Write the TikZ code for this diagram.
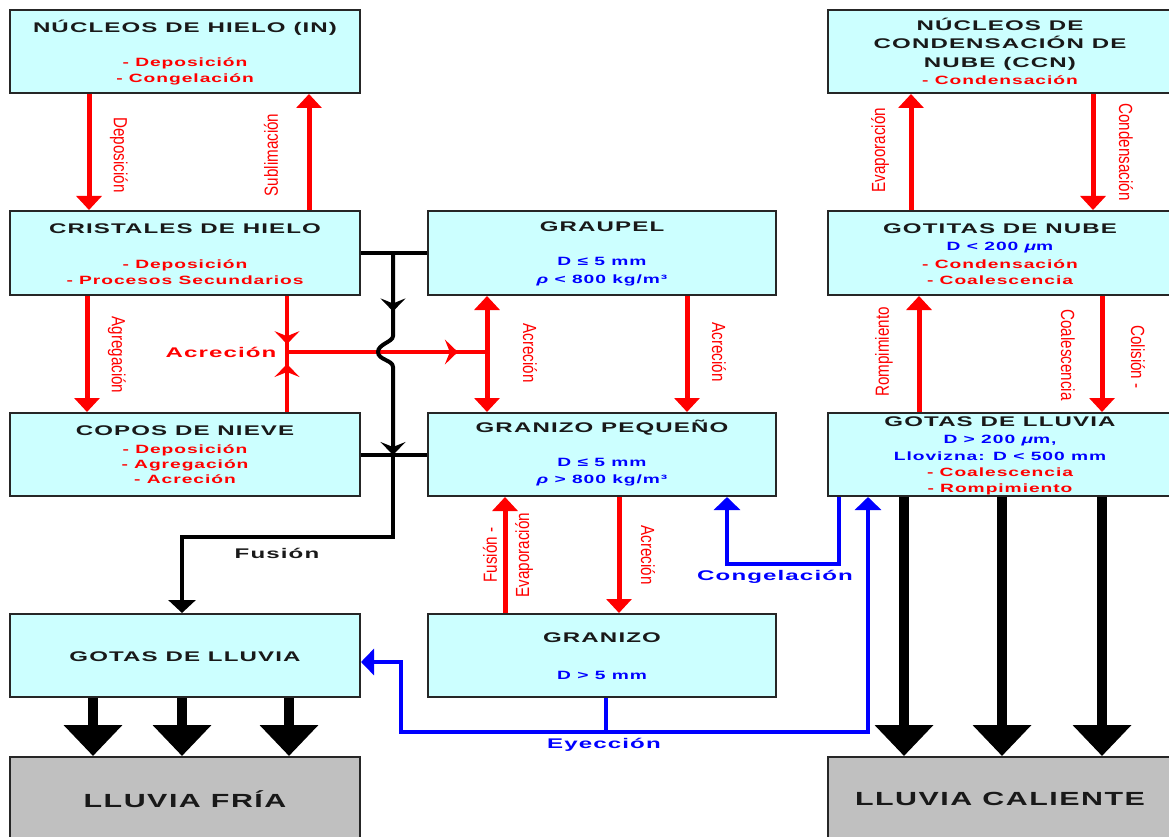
\documentclass[tikz,border=0pt]{standalone}
\usepackage{fontspec}
\setmainfont{Liberation Sans}
\newfontfamily\wf[FakeStretch=1.72,LetterSpace=8]{Liberation Sans}
\newfontfamily\subf[FakeStretch=1.6,LetterSpace=8]{Liberation Sans}
\newfontfamily\nf[FakeStretch=0.8]{Liberation Sans}
\usetikzlibrary{arrows.meta,decorations.markings}
\definecolor{boxc}{HTML}{CCFFFF}
\definecolor{grayc}{HTML}{C0C0C0}
\definecolor{rd}{HTML}{FF0000}
\definecolor{bl}{HTML}{0000FF}
\begin{document}
\begin{tikzpicture}[x=1pt,y=-1pt,
 box/.style={draw=black!85,line width=2pt,fill=boxc,inner sep=0pt},
 gbox/.style={box,fill=grayc},
 ttl/.style={font=\wf\bfseries\fontsize{14}{18}\selectfont,text=black!90,align=center,inner sep=0pt},
 big/.style={font=\subf\bfseries\fontsize{19}{22}\selectfont,text=black!90,align=center,inner sep=0pt},
 rtx/.style={font=\subf\bfseries\fontsize{12}{16}\selectfont,text=rd,align=center,inner sep=0pt},
 btx/.style={font=\subf\bfseries\fontsize{12}{16}\selectfont,text=bl,align=center,inner sep=0pt},
 lbl/.style={font=\wf\bfseries\fontsize{14}{16}\selectfont,inner sep=0pt},
 rot/.style={font=\nf\fontsize{19}{20}\selectfont,text=rd,inner sep=0pt},
 rarr/.style={draw=rd,line width=5pt,-{Triangle[length=14pt,width=25pt]}},
 rdbl/.style={draw=rd,line width=5pt,{Triangle[length=14pt,width=25pt]}-{Triangle[length=14pt,width=25pt]}},
 rline/.style={draw=rd,line width=3.5pt},
 bline/.style={draw=black,line width=4pt},
 blue/.style={draw=bl,line width=4pt},
 bluearr/.style={blue,-{Triangle[length=13pt,width=26pt]}},
 bigarr/.style={draw=black,line width=10pt,-{Triangle[length=31pt,width=57pt]}},
 midarr/.style={postaction={decorate},decoration={markings,mark=at position #1 with {\arrow{Stealth[length=13pt,width=25pt,inset=5pt]}}}}
]
\useasboundingbox (0,0) rectangle (1169,837);
% boxes
\node[box,minimum width=350pt,minimum height=83pt] (in) at (185,51.5) {};
\node[box,minimum width=344pt,minimum height=83pt] (ccn) at (1000,51.5) {};
\node[box,minimum width=350pt,minimum height=84pt] (cri) at (185,253) {};
\node[box,minimum width=348pt,minimum height=84pt] (gra) at (602,253) {};
\node[box,minimum width=344pt,minimum height=84pt] (got) at (1000,253) {};
\node[box,minimum width=350pt,minimum height=83pt] (cop) at (185,454.5) {};
\node[box,minimum width=348pt,minimum height=83pt] (gp) at (602,454.5) {};
\node[box,minimum width=344pt,minimum height=83pt] (gll) at (1000,454.5) {};
\node[box,minimum width=350pt,minimum height=83pt] (gl) at (185,655.5) {};
\node[box,minimum width=348pt,minimum height=83pt] (gz) at (602,655.5) {};
\node[gbox,minimum width=350pt,minimum height=90pt] (lf) at (185,802) {};
\node[gbox,minimum width=344pt,minimum height=90pt] (lc) at (1000,802) {};
% box texts
\node[ttl] (in-t) at (185,28) {NÚCLEOS DE HIELO (IN)};
\node[rtx] (in-s) at (185,71) {- Deposición\\- Congelación};
\node[ttl,font=\wf\bfseries\fontsize{14}{18.5}\selectfont] (ccn-t) at (1000,44) {NÚCLEOS DE\\CONDENSACIÓN DE\\NUBE (CCN)};
\node[rtx] (ccn-s) at (1000,80) {- Condensación};
\node[ttl] (cri-t) at (185,229) {CRISTALES DE HIELO};
\node[rtx] (cri-s) at (185,272) {- Deposición\\- Procesos Secundarios};
\node[ttl] (gra-t) at (602,227) {GRAUPEL};
\node[btx,font=\subf\bfseries\fontsize{12}{18}\selectfont] (gra-s) at (602,272) {D ≤ 5 mm\\{\itshape ρ} < 800 kg/m³};
\node[ttl] (got-t) at (1000,229) {GOTITAS DE NUBE};
\node[btx] (got-b) at (1000,248) {D < 200 {\itshape μ}m};
\node[rtx] (got-s) at (1000,272) {- Condensación\\- Coalescencia};
\node[ttl] (cop-t) at (185,431) {COPOS DE NIEVE};
\node[rtx,font=\subf\bfseries\fontsize{12}{15}\selectfont] (cop-s) at (185,464) {- Deposición\\- Agregación\\- Acreción};
\node[ttl] (gp-t) at (602,428) {GRANIZO PEQUEÑO};
\node[btx,font=\subf\bfseries\fontsize{12}{17}\selectfont] (gp-s) at (602,472.5) {D ≤ 5 mm\\{\itshape ρ} > 800 kg/m³};
\node[ttl] (gll-t) at (1000,422) {GOTAS DE LLUVIA};
\node[btx,font=\subf\bfseries\fontsize{12}{17}\selectfont] (gll-b) at (1000,447.5) {D > 200 {\itshape μ}m,\\Llovizna: D < 500 mm};
\node[rtx] (gll-s) at (1000,481) {- Coalescencia\\- Rompimiento};
\node[ttl] (gl-t) at (185,657) {GOTAS DE LLUVIA};
\node[ttl] (gz-t) at (602,638) {GRANIZO};
\node[btx] (gz-s) at (602,675) {D > 5 mm};
\node[big] (lf-t) at (185,799) {LLUVIA FRÍA};
\node[big] (lc-t) at (1000,799) {LLUVIA CALIENTE};
% red vertical arrows
\draw[rarr] ([xshift=80pt]in.south west) -- ([xshift=80pt]cri.north west);
\draw[rarr] ([xshift=300pt]cri.north west) -- ([xshift=300pt]in.south west);
\draw[rarr] ([xshift=84pt]got.north west) -- ([xshift=84pt]ccn.south west);
\draw[rarr] ([xshift=266pt]ccn.south west) -- ([xshift=266pt]got.north west);
\draw[rarr] ([xshift=78pt]cri.south west) -- ([xshift=78pt]cop.north west);
\draw[rdbl] ([xshift=60pt]gra.south west) -- ([xshift=60pt]gp.north west);
\draw[rarr] ([xshift=260pt]gra.south west) -- ([xshift=260pt]gp.north west);
\draw[rarr] ([xshift=92pt]gll.north west) -- ([xshift=92pt]got.south west);
\draw[rarr] ([xshift=275pt]got.south west) -- ([xshift=275pt]gll.north west);
\draw[rarr] ([xshift=78pt]gz.north west) -- ([xshift=78pt]gp.south west);
\draw[rarr] ([xshift=192pt]gp.south west) -- ([xshift=192pt]gz.north west);
% accretion junction
\coordinate (J) at (287,352);
\coordinate (A) at (488,352);
\draw[rline,midarr=0.86] ([xshift=102pt]cri.south) -- (J);
\draw[rline,midarr=0.8] ([xshift=102pt]cop.north) -- (J);
% black connectors
\draw[bline] (cri.east) -- (gra.west);
\draw[bline] (cop.east) -- (gp.west);
\coordinate (b1) at (393,253);
\coordinate (b2) at (393,455);
\draw[rline,midarr=0.85] (J) -- (A);
\draw[bline,midarr=0.27] (b1) -- (393,336) .. controls (393,342) and (378,344) .. (378,352) .. controls (378,360) and (393,360) .. (393,367) -- (b2);
\draw[bline,-{Stealth[length=13pt,width=25pt,inset=5pt]}] (393,420) -- (b2);
\draw[bline,-{Triangle[length=13pt,width=27pt]}] (b2) -- (393,537) -| ([xshift=-3pt]gl.north);
% blue connectors
\draw[bluearr] ([xshift=12pt]gll.south west) -- ++(0,67) -| ([xshift=-50pt]gp.south east);
\coordinate (ey) at (606,732);
\draw[blue] ([xshift=4pt]gz.south) -- (ey);
\draw[bluearr] (ey) -| ([xshift=41pt]gll.south west);
\draw[bluearr] (ey) -- (401,732) |- ([yshift=-6.5pt]gl.east);
% big arrows
\draw[bigarr] ([xshift=84pt]gl.south west) -- ([xshift=84pt]lf.north west);
\draw[bigarr] ([xshift=173pt]gl.south west) -- ([xshift=173pt]lf.north west);
\draw[bigarr] ([xshift=280pt]gl.south west) -- ([xshift=280pt]lf.north west);
\draw[bigarr] ([xshift=77pt]gll.south west) -- ([xshift=77pt]lc.north west);
\draw[bigarr] ([xshift=175pt]gll.south west) -- ([xshift=175pt]lc.north west);
\draw[bigarr] ([xshift=275pt]gll.south west) -- ([xshift=275pt]lc.north west);
% labels
\node[rot,rotate=-90] (l1) at (119,155) {Deposición};
\node[rot,rotate=90] (l2) at (271,155) {Sublimación};
\node[rot,rotate=90] (l3) at (880,150) {Evaporación};
\node[rot,rotate=-90] (l4) at (1126,152) {Condensación};
\node[rot,rotate=-90] (l5) at (117,355) {Agregación};
\node[rot,rotate=-90] (l6) at (530,353) {Acreción};
\node[rot,rotate=-90] (l7) at (719,352) {Acreción};
\node[rot,rotate=90] (l8) at (884,352) {Rompimiento};
\node[rot,rotate=-90] (l9) at (1068,355) {Coalescencia};
\node[rot,rotate=-90] (l10) at (1138,357) {Colisión -};
\node[rot,rotate=90] (l11) at (490,555) {Fusión -};
\node[rot,rotate=90] (l12) at (524,555) {Evaporación};
\node[rot,rotate=-90] (l13) at (648,555) {Acreción};
\node[lbl,text=rd] (l14) at (221,352) {Acreción};
\node[lbl,text=black!90] (l15) at (277,553) {Fusión};
\node[lbl,text=bl] (l16) at (775,577) {Congelación};
\node[lbl,text=bl] (l17) at (604,745) {Eyección};
\end{tikzpicture}
\end{document}
